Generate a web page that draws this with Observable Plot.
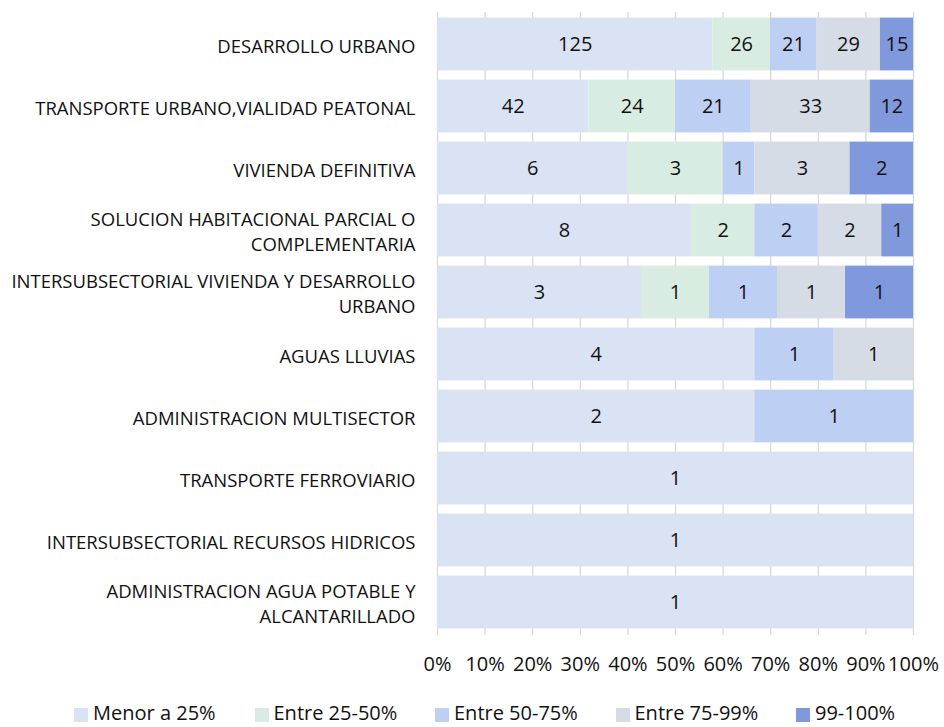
<!DOCTYPE html>
<html>
<head>
<meta charset="utf-8">
<script src="https://cdn.jsdelivr.net/npm/d3@7"></script>
<script src="https://cdn.jsdelivr.net/npm/@observablehq/plot@0.6"></script>
<style>
  html, body { margin: 0; padding: 0; background: #fff; }
  body { width: 944px; height: 727px; overflow: hidden; position: relative; font-family: "Open Sans", sans-serif; }
  #chart svg { display: block; }
  #legend { display: flex; position: absolute; left: 74px; top: 699px; height: 28px; font-size: 20px; line-height: 28px; color: #111; white-space: nowrap; }
  #legend .item { display: flex; align-items: center; width: 180.5px; height: 28px; }
  #legend .sw { width: 14px; height: 14px; margin-right: 5px; margin-top: 4px; flex: none; }
</style>
</head>
<body>
<div id="chart"></div>
<div id="legend"></div>
<script>
const categories = [
  "DESARROLLO URBANO",
  "TRANSPORTE URBANO,VIALIDAD PEATONAL",
  "VIVIENDA DEFINITIVA",
  "SOLUCION HABITACIONAL PARCIAL O COMPLEMENTARIA",
  "INTERSUBSECTORIAL VIVIENDA Y DESARROLLO URBANO",
  "AGUAS LLUVIAS",
  "ADMINISTRACION MULTISECTOR",
  "TRANSPORTE FERROVIARIO",
  "INTERSUBSECTORIAL RECURSOS HIDRICOS",
  "ADMINISTRACION AGUA POTABLE Y ALCANTARILLADO"
];
const categoryLabels = [
  "DESARROLLO URBANO",
  "TRANSPORTE URBANO,VIALIDAD PEATONAL",
  "VIVIENDA DEFINITIVA",
  "SOLUCION HABITACIONAL PARCIAL O\nCOMPLEMENTARIA",
  "INTERSUBSECTORIAL VIVIENDA Y DESARROLLO\nURBANO",
  "AGUAS LLUVIAS",
  "ADMINISTRACION MULTISECTOR",
  "TRANSPORTE FERROVIARIO",
  "INTERSUBSECTORIAL RECURSOS HIDRICOS",
  "ADMINISTRACION AGUA POTABLE Y\nALCANTARILLADO"
];
const seriesNames = ["Menor a 25%", "Entre 25-50%", "Entre 50-75%", "Entre 75-99%", "99-100%"];
const seriesColors = ["#dae3f3", "#d9ece1", "#bdcff3", "#d6dce5", "#7f99dc"];
const menor25   = [125, 42, 6, 8, 3, 4, 2, 1, 1, 1];
const entre2550 = [26, 24, 3, 2, 1, 0, 0, 0, 0, 0];
const entre5075 = [21, 21, 1, 2, 1, 1, 1, 0, 0, 0];
const entre7599 = [29, 33, 3, 2, 1, 1, 0, 0, 0, 0];
const de99a100  = [15, 12, 2, 1, 1, 0, 0, 0, 0, 0];
const xTicks = [0, 0.1, 0.2, 0.3, 0.4, 0.5, 0.6, 0.7, 0.8, 0.9, 1];

const seriesValues = [menor25, entre2550, entre5075, entre7599, de99a100];
const rows = [];
seriesNames.forEach((s, si) => {
  categories.forEach((c, ci) => {
    const v = seriesValues[si][ci];
    if (v > 0) rows.push({cat: c, series: s, value: v});
  });
});
const labelOf = new Map(categories.map((c, i) => [c, categoryLabels[i]]));

const stackOpts = {x: "value", y: "cat", z: "series", offset: "normalize", order: seriesNames};

const plot = Plot.plot({
  width: 944,
  height: 690,
  marginLeft: 437,
  marginRight: 31,
  marginTop: 11,
  marginBottom: 56,
  style: {fontFamily: "'Open Sans', sans-serif", fontSize: "18.5px", color: "#111"},
  x: {domain: [0, 1], ticks: xTicks, tickFormat: d3.format(".0%"), label: null},
  y: {domain: categories, padding: 0, label: null},
  color: {domain: seriesNames, range: seriesColors},
  marks: [
    Plot.gridX(xTicks, {stroke: "#d9d9d9", strokeOpacity: 1, strokeWidth: 1.3, insetTop: 1, insetBottom: -1}),
    Plot.barX(rows, Plot.stackX({...stackOpts, fill: "series", insetTop: 4.6, insetBottom: 4.6})),
    Plot.text(rows, Plot.stackX({...stackOpts, text: "value", fill: "#111", fontSize: 20})),
    Plot.axisX({ticks: xTicks, tickFormat: d3.format(".0%"), tickSize: 0, tickPadding: 22, fontSize: 20, label: null}),
    Plot.axisY({tickSize: 0, tickPadding: 22, tickFormat: d => labelOf.get(d), lineHeight: 1.35, fontSize: 18.5, label: null})
  ]
});
document.getElementById("chart").appendChild(plot);

const legend = document.getElementById("legend");
seriesNames.forEach((s, i) => {
  const item = document.createElement("div");
  item.className = "item";
  const sw = document.createElement("span");
  sw.className = "sw";
  sw.style.background = seriesColors[i];
  const t = document.createElement("span");
  t.textContent = s;
  item.appendChild(sw);
  item.appendChild(t);
  legend.appendChild(item);
});
</script>
</body>
</html>
